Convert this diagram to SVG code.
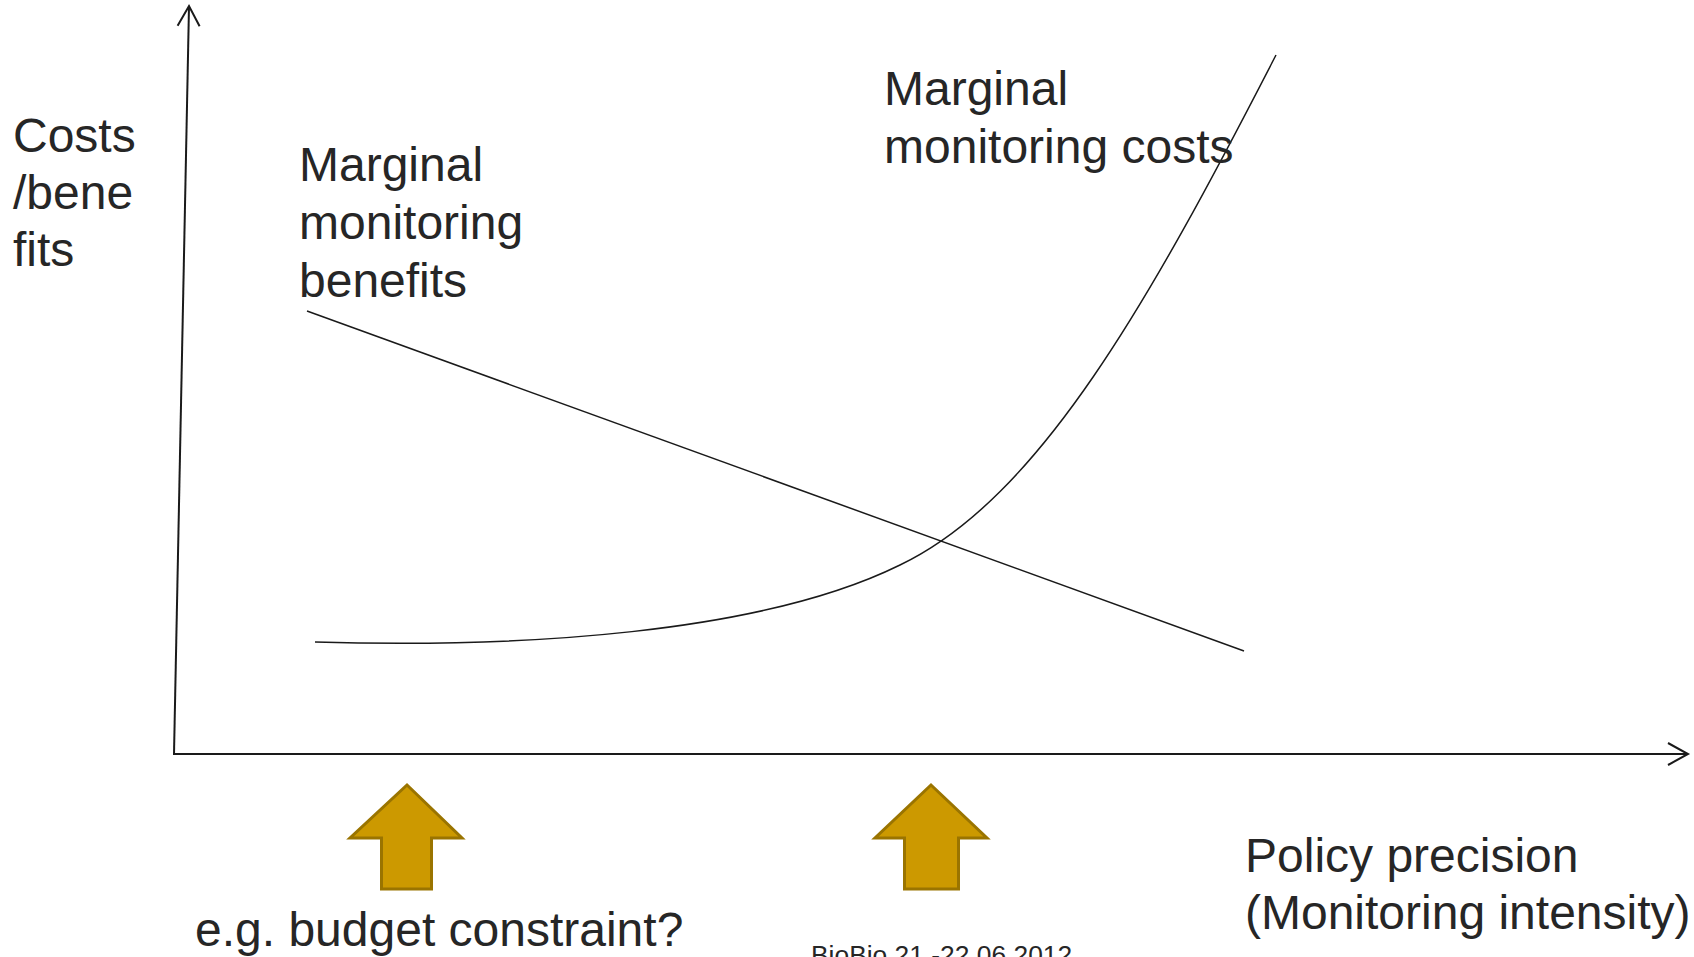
<svg xmlns="http://www.w3.org/2000/svg" width="1694" height="957" viewBox="0 0 1694 957">
<defs>
<style>
.t{font-family:"Liberation Sans",Arial,sans-serif;font-size:48px;fill:#262626}
.s{font-family:"Liberation Sans",Arial,sans-serif;font-size:26.4px;fill:#262626}
.ax{stroke:#1a1a1a;stroke-width:2;fill:none}
.ln{stroke:#1a1a1a;stroke-width:1.5;fill:none}
.gold{fill:#CC9900;stroke:#9A7400;stroke-width:3;stroke-linejoin:miter}
</style>
<marker id="open" markerUnits="userSpaceOnUse" markerWidth="30" markerHeight="30" viewBox="-25 -15 30 30" refX="0" refY="0" orient="auto">
<path d="M-20,-11 L0,0 L-20,11" fill="none" stroke="#1a1a1a" stroke-width="2"/>
</marker>
</defs>
<rect width="1694" height="957" fill="#ffffff"/>
<g id="connectors">
<line class="ax" x1="174" y1="754" x2="189" y2="6" marker-end="url(#open)"/>
<line class="ax" x1="173" y1="754" x2="1688" y2="754" marker-end="url(#open)"/>
<line class="ln" x1="307" y1="311" x2="1244" y2="651"/>
<path class="ln" d="M315,642 C520,648 760,634 900,565 C1040,498 1150,300 1276,55"/>
</g>
<g id="y-label">
<text class="t" x="13" y="152">Costs</text>
<text class="t" x="13" y="209">/bene</text>
<text class="t" x="13" y="266">fits</text>
</g>
<g id="benefits-label">
<text class="t" x="299" y="181">Marginal</text>
<text class="t" x="299" y="239">monitoring</text>
<text class="t" x="299" y="297">benefits</text>
</g>
<g id="costs-label">
<text class="t" x="884" y="105">Marginal</text>
<text class="t" x="884" y="163">monitoring costs</text>
</g>
<g id="x-label">
<text class="t" x="1245" y="872">Policy precision</text>
<text class="t" x="1245" y="929">(Monitoring intensity)</text>
</g>
<g id="arrow-budget">
<polygon class="gold" points="407,785 462,838 431.5,838 431.5,889 381.5,889 381.5,838 350,838"/>
</g>
<g id="arrow-optimum">
<polygon class="gold" points="931,785 987,838 958.5,838 958.5,889 904.5,889 904.5,838 875,838"/>
</g>
<g id="budget-label">
<text class="t" x="195" y="946">e.g. budget constraint?</text>
</g>
<g id="footer">
<text class="s" x="811" y="964">BioBio 21.-22.06.2012</text>
</g>
</svg>
